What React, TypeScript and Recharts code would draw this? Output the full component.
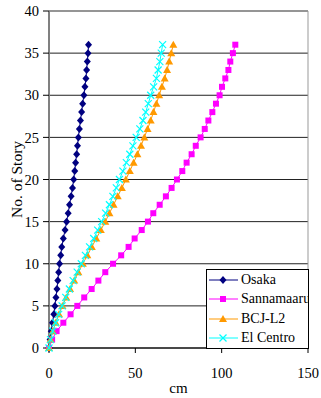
import { ScatterChart, Scatter, XAxis, YAxis, CartesianGrid, ReferenceLine, Legend } from 'recharts'

document.body.style.margin = '0'

const FONT = 'Liberation Serif'

// story numbers 0..36
const stories = [0, 1, 2, 3, 4, 5, 6, 7, 8, 9, 10, 11, 12, 13, 14, 15, 16, 17, 18, 19, 20,
    21, 22, 23, 24, 25, 26, 27, 28, 29, 30, 31, 32, 33, 34, 35, 36]

// max displacement (cm) per story
const osaka = [0, 0.6, 1.3, 2.0, 2.8, 3.4, 4.0, 4.6, 5.1, 5.6, 6.1, 6.8, 7.4, 8.3, 9.3, 10.2,
    11.1, 11.9, 12.8, 13.6, 14.3, 14.9, 15.4, 16.0, 16.5, 17.0, 17.6, 18.2, 18.9, 19.5, 20.2,
    20.8, 21.4, 21.8, 22.2, 22.6, 22.9]
const sannamaaru = [0, 1.8, 4.4, 8.3, 12.5, 16.4, 20.4, 24.7, 28.6, 32.6, 37.1, 41.8, 46.1,
    49.6, 53.7, 57.3, 60.4, 64.1, 67.7, 71.0, 74.1, 77.2, 79.7, 82.6, 85.0, 87.8, 90.2, 92.3,
    94.6, 96.7, 98.8, 100.2, 102.1, 103.9, 105.0, 106.5, 107.9]
const bcjL2 = [0, 0.9, 2.2, 3.9, 5.8, 7.8, 10.0, 12.2, 14.6, 17.0, 19.6, 22.2, 24.8, 27.4,
    30.0, 32.6, 35.0, 37.4, 39.8, 42.2, 44.5, 46.8, 49.0, 51.2, 53.3, 55.2, 57.1, 58.9, 60.5,
    62.2, 63.8, 65.4, 67.0, 68.4, 69.6, 70.8, 72.0]
const elCentro = [0, 0.9, 2.2, 3.8, 5.6, 7.6, 9.7, 11.8, 14.0, 16.3, 18.7, 21.1, 23.5, 25.9,
    28.2, 30.5, 32.8, 35.0, 37.0, 39.0, 40.8, 42.8, 44.8, 46.8, 48.6, 50.5, 52.6, 54.4, 56.0,
    57.5, 58.9, 60.6, 62.2, 63.2, 64.2, 65.0, 65.8]

const seriesNames = ['Osaka', 'Sannamaaru', 'BCJ-L2', 'El Centro']
const seriesValues = [osaka, sannamaaru, bcjL2, elCentro]
const seriesColors = ['#000080', '#FF00FF', '#FF9900', '#00FFFF']

const xTicks = [0, 50, 100, 150]
const yTicks = [0, 5, 10, 15, 20, 25, 30, 35, 40]

const marker = (i: number, cx: number, cy: number) => {
    const c = seriesColors[i]
    if (i == 0) {
        return <polygon points={`${cx},${cy - 4} ${cx + 3.5},${cy} ${cx},${cy + 4} ${cx - 3.5},${cy}`} fill={c} />
    }
    if (i == 1) {
        return <rect x={cx - 3} y={cy - 3} width={6} height={6} fill={c} />
    }
    if (i == 2) {
        return <polygon points={`${cx},${cy - 4} ${cx + 4},${cy + 3} ${cx - 4},${cy + 3}`} fill={c} />
    }
    return (
        <g stroke={c} strokeWidth={1.2}>
            <line x1={cx - 3.5} y1={cy - 3.5} x2={cx + 3.5} y2={cy + 3.5} />
            <line x1={cx - 3.5} y1={cy + 3.5} x2={cx + 3.5} y2={cy - 3.5} />
        </g>
    )
}

const renderLegend = () => (
    <div style={{
        width: 103, height: 80, boxSizing: 'border-box', border: '1px solid #000', background: '#fff',
        fontFamily: FONT, fontSize: 14, overflow: 'hidden', whiteSpace: 'nowrap'
    }}>
        {seriesNames.map((name, i) => (
            <div key={name} style={{ display: 'flex', alignItems: 'center', height: 19.5 }}>
                <svg width={34} height={12} style={{ flex: 'none' }}>
                    <line x1={2} x2={31} y1={6} y2={6} stroke={seriesColors[i]} />
                    {marker(i, 16, 6)}
                </svg>
                <span>{name}</span>
            </div>
        ))}
    </div>
)

const YLabel = (props: any) => {
    const vb = props.viewBox
    const cx = 16
    const cy = vb.y + vb.height / 2
    return (
        <text x={cx} y={cy} transform={`rotate(-90 ${cx} ${cy})`} textAnchor="middle"
            dominantBaseline="central" style={{ fontFamily: FONT }} fontSize={15.5} fill="#000">
            No. of Story
        </text>
    )
}

const App = () => {
    const tickStyle = { fill: '#000', fontSize: 14.5, style: { fontFamily: FONT } }
    return (
        <div style={{ fontFamily: FONT }}>
            <ScatterChart width={321} height={398} margin={{ top: 11, right: 13, left: 0, bottom: 0 }}
                style={{ fontFamily: FONT }}>
                <CartesianGrid vertical={false} stroke="#222" />
                <XAxis type="number" dataKey="x" domain={[0, 150]} ticks={xTicks} height={50}
                    tickSize={5} tickMargin={15} tick={tickStyle} axisLine={{ stroke: '#000' }}
                    tickLine={{ stroke: '#000' }}
                    label={{ value: 'cm', position: 'insideBottom', offset: 5, fill: '#000', fontSize: 15, style: { fontFamily: FONT } }} />
                <YAxis type="number" dataKey="y" domain={[0, 40]} ticks={yTicks} width={49}
                    tickSize={6} tickMargin={4} tick={tickStyle} axisLine={{ stroke: '#808080', strokeWidth: 2 }}
                    tickLine={{ stroke: '#000' }} label={{ content: YLabel }} />
                <ReferenceLine x={150} stroke="#999" />
                <ReferenceLine y={40} stroke="#999" />
                {seriesNames.map((name, i) => (
                    <Scatter key={name} name={name}
                        data={stories.map((s, k) => ({ x: seriesValues[i][k], y: s }))}
                        line={{ stroke: seriesColors[i], strokeWidth: 1 }}
                        shape={(p: any) => marker(i, p.cx, p.cy)}
                        isAnimationActive={false} />
                ))}
                <Legend layout="horizontal" verticalAlign="middle" align="center" content={renderLegend}
                    wrapperStyle={{ left: 206, top: 269, width: 103, height: 80 }} />
            </ScatterChart>
        </div>
    )
}

export default App
